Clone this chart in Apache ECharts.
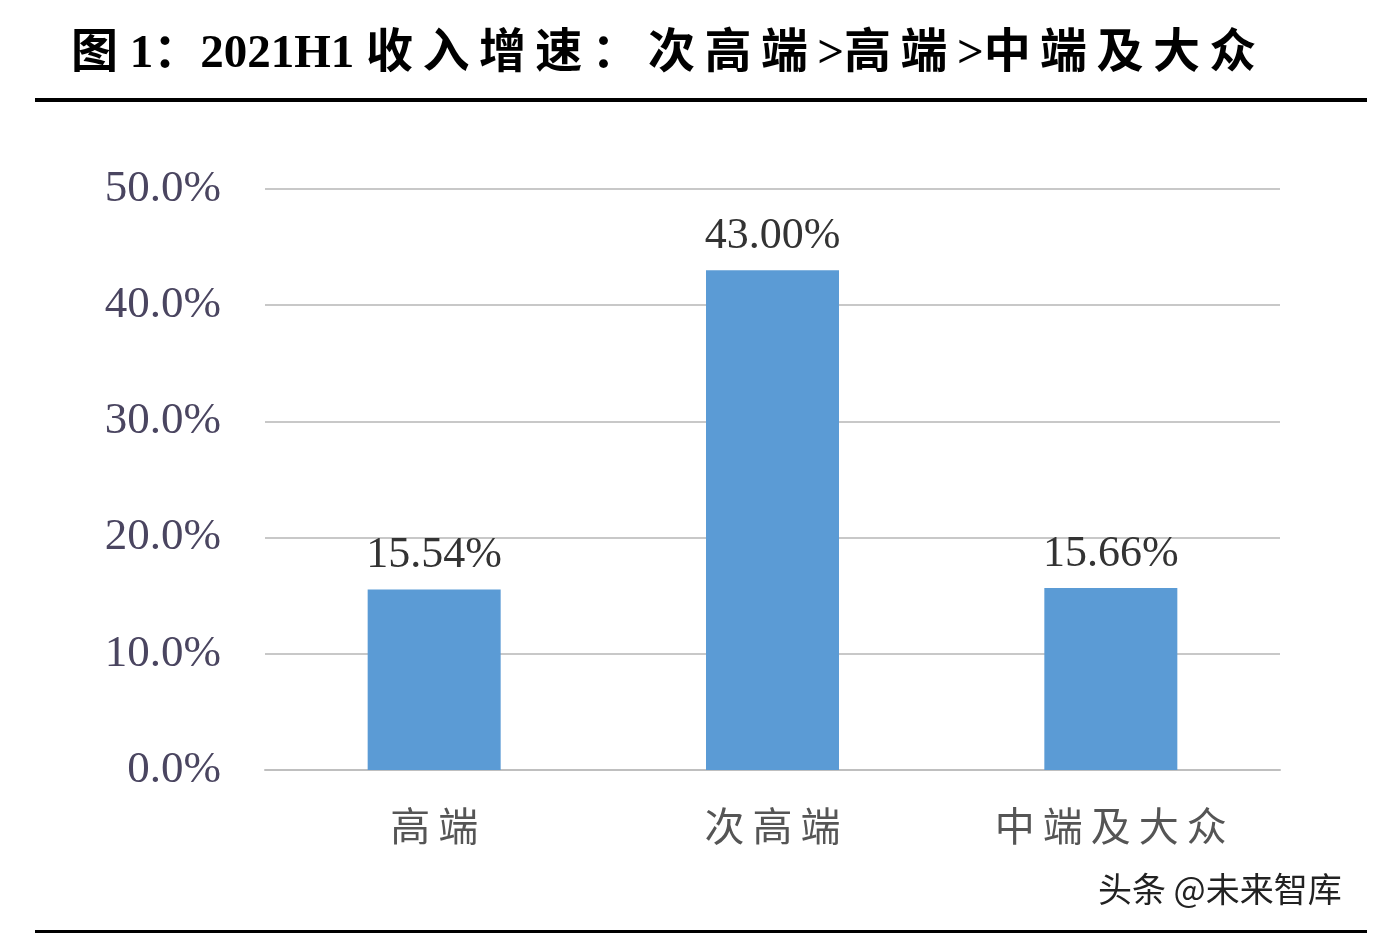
<!DOCTYPE html>
<html>
<head>
<meta charset="utf-8">
<script src="https://cdn.jsdelivr.net/npm/echarts@6/dist/echarts.min.js"></script>
<style>
  html, body { margin: 0; padding: 0; background: #fff; }
  #chart { width: 1376px; height: 938px; }
</style>
</head>
<body>
<div id="chart"></div>
<script>
// data
const categories = ['高端', '次高端', '中端及大众'];
const growth = [15.54, 43.00, 15.66];
const yTicks = [0, 10, 20, 30, 40, 50];

const serif = '"Liberation Serif", "Noto Sans CJK SC", serif';
const spaced = s => s.replace(/([\u4e00-\u9fff：])(?=[\u4e00-\u9fff：>])/g, '$1\u2009');
const chart = echarts.init(document.getElementById('chart'));

chart.setOption({
    animation: false,
    backgroundColor: '#fff',
    title: {
        text: spaced('图 1：2021H1 收入增速：次高端>高端>中端及大众'),
        left: 66,
        top: 26,
        textStyle: { fontFamily: serif, fontSize: 47, fontWeight: 'bold', color: '#000' }
    },
    graphic: [
        { type: 'rect', shape: { x: 35, y: 98, width: 1332, height: 4 }, style: { fill: '#000' } },
        { type: 'rect', shape: { x: 35, y: 930, width: 1332, height: 3 }, style: { fill: '#000' } },
        {
            type: 'text', left: 1098, top: 872,
            style: { text: '头条 @未来智库', font: '34px "Noto Sans CJK SC"', fill: '#222' }
        }
    ],
    grid: { left: 265, right: 96, top: 189, bottom: 168 },
    xAxis: {
        type: 'category',
        data: categories,
        axisTick: { show: false },
        axisLine: { lineStyle: { color: '#bfbfbf', width: 2 } },
        axisLabel: {
            margin: 40, fontFamily: serif, fontSize: 40, color: '#555',
            formatter: v => v.split('').join('\u2009')
        }
    },
    yAxis: {
        type: 'value',
        min: yTicks[0],
        max: yTicks[yTicks.length - 1],
        interval: 10,
        axisLine: { show: false },
        axisTick: { show: false },
        splitLine: { lineStyle: { color: '#c8c8c8', width: 2 } },
        axisLabel: {
            margin: 44, fontFamily: serif, fontSize: 45, color: '#4a4560',
            formatter: v => v.toFixed(1) + '%'
        }
    },
    series: [{
        type: 'bar',
        data: growth,
        barWidth: 133,
        itemStyle: { color: '#5b9bd5' },
        label: {
            show: true, position: 'top', distance: 12,
            fontFamily: serif, fontSize: 44, color: '#333',
            formatter: p => p.value.toFixed(2) + '%'
        }
    }]
});
</script>
</body>
</html>
